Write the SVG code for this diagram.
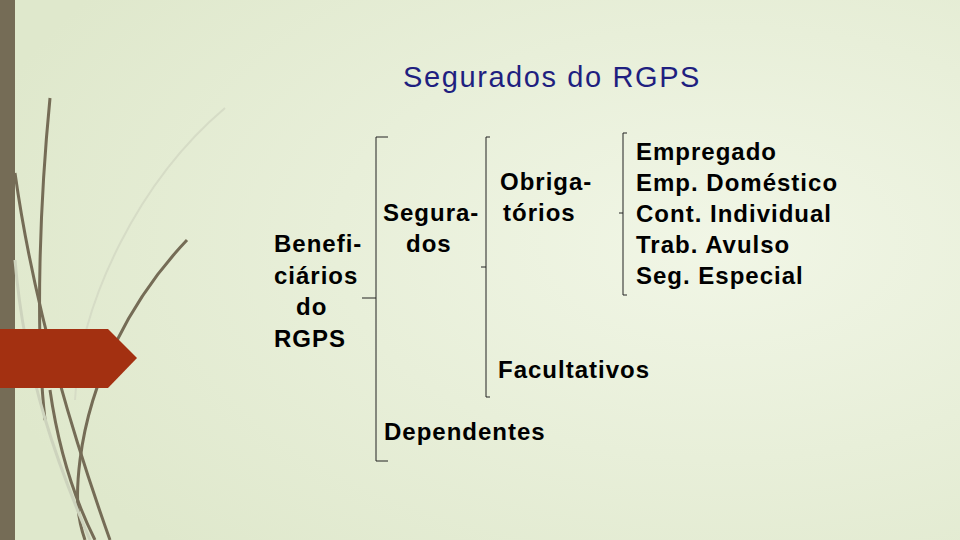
<svg xmlns="http://www.w3.org/2000/svg" width="960" height="540" viewBox="0 0 960 540">
<defs>
<radialGradient id="bg" cx="0.75" cy="0.45" r="0.8"><stop offset="0" stop-color="#f1f6e6"/><stop offset="1" stop-color="#dfe8cc"/></radialGradient>
<style>
.t{font-family:"Liberation Sans",Arial,sans-serif;font-weight:bold;font-size:24px;letter-spacing:1px;fill:#000}
.b{fill:none;stroke:#222;stroke-width:1}
.d{fill:none;stroke:#756c56;stroke-width:3}
</style>
</defs>
<rect width="960" height="540" fill="url(#bg)"/>
<rect width="15" height="540" fill="#756c56"/>
<g id="decor">
<path d="M50,98 C40,200 35,330 45,420" class="d" stroke-width="2.5"/>
<path d="M15,173 C30,280 60,400 110,540" class="d"/>
<path d="M187,240 C130,300 90,380 80,460 C75,500 78,520 85,540" class="d" stroke-width="2.5"/>
<path d="M225,108 C140,180 80,300 75,400" fill="none" stroke="#d6dcc6" stroke-width="2"/>
<path d="M15,260 C25,380 60,470 90,540" fill="none" stroke="#cdd3bd" stroke-width="3"/>
<path d="M50,390 C60,460 80,510 95,540" class="d"/>
</g>
<polygon points="0,329 108,329 137,358 108,388 0,388" fill="#a33011"/>
<text x="403" y="87" font-family="Liberation Sans,Arial,sans-serif" font-size="29" letter-spacing="1.6" fill="#1f1f80">Segurados do RGPS</text>
<g id="connectors">
<path class="b" d="M388,137 H376 V298 H362 M376,298 V461 H388"/>
<path class="b" d="M490,137 H486 V267 H481 M486,267 V397 H490"/>
<path class="b" d="M627,133 H623 V213 H619 M623,213 V295 H627"/>
</g>
<g id="beneficiarios"><text class="t" x="274" y="252">Benefi-</text><text class="t" x="274" y="284">ciários</text><text class="t" x="296" y="315">do</text><text class="t" x="274" y="347">RGPS</text></g>
<g id="segurados"><text class="t" x="383" y="221">Segura-</text><text class="t" x="406" y="252">dos</text></g>
<g id="obrigatorios"><text class="t" x="500" y="190">Obriga-</text><text class="t" x="503" y="221">tórios</text></g>
<g id="tipos"><text class="t" x="636" y="160">Empregado</text><text class="t" x="636" y="191">Emp. Doméstico</text><text class="t" x="636" y="222">Cont. Individual</text><text class="t" x="636" y="253">Trab. Avulso</text><text class="t" x="636" y="284">Seg. Especial</text></g>
<g id="facultativos"><text class="t" x="498" y="378">Facultativos</text></g>
<g id="dependentes"><text class="t" x="384" y="440">Dependentes</text></g>
</svg>
